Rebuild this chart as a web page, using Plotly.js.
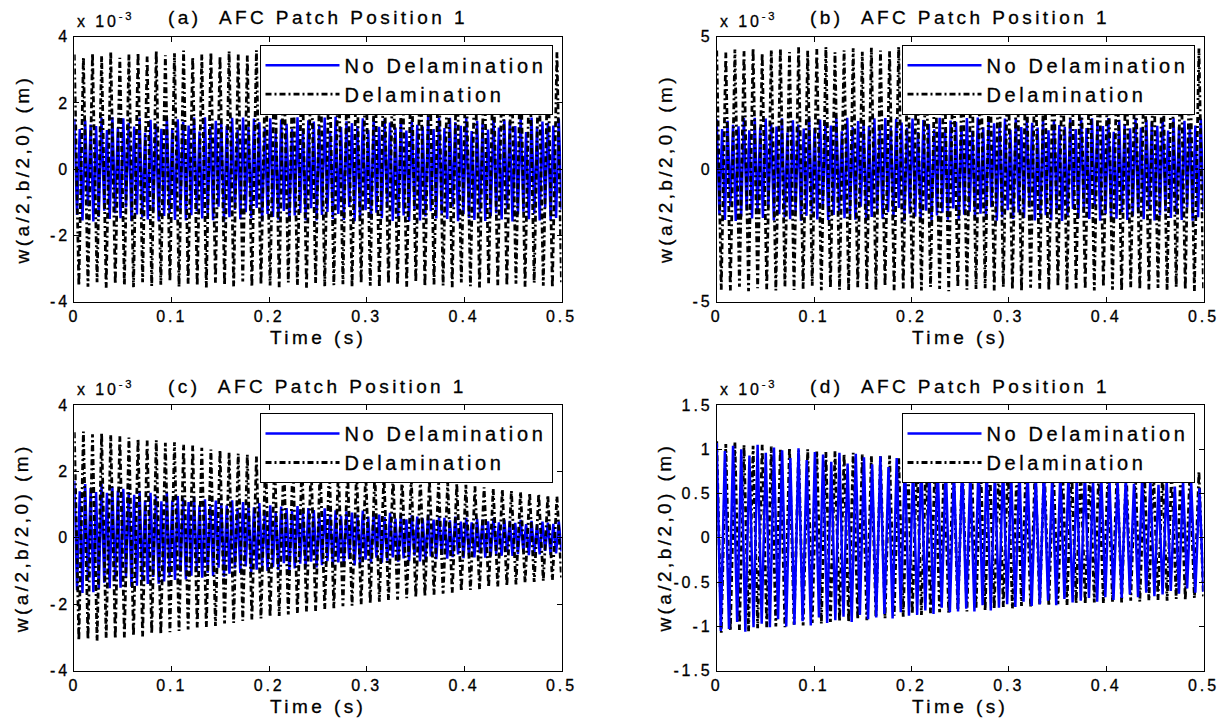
<!DOCTYPE html>
<html>
<head>
<meta charset="utf-8">
<script src="https://cdn.plot.ly/plotly-3.0.1.min.js"></script>
<style>
  html, body { margin: 0; padding: 0; background: #fff; }
  svg text { letter-spacing: 0.18em; stroke: #000; stroke-width: 0.3px; }
</style>
</head>
<body>
<div id="chart" style="width:1231px;height:720px;"></div>
<script>
// ---------------- DATA (values in units of 10^-3 m, successive peaks/troughs over 0..0.5 s) ----------------
const T_END = 0.5;
const xTicks = [0, 0.1, 0.2, 0.3, 0.4, 0.5];
const xTickText = ["0", "0.1", "0.2", "0.3", "0.4", "0.5"];
const yTicksA = [-4, -2, 0, 2, 4];
const yTickTextA = ["-4", "-2", "0", "2", "4"];
const yTicksB = [-5, 0, 5];
const yTickTextB = ["-5", "0", "5"];
const yTicksC = [-4, -2, 0, 2, 4];
const yTickTextC = ["-4", "-2", "0", "2", "4"];
const yTicksD = [-1.5, -1, -0.5, 0, 0.5, 1, 1.5];
const yTickTextD = ["-1.5", "-1", "-0.5", "0", "0.5", "1", "1.5"];

const seriesNames = ["No Delamination", "Delamination"];
const panelTitles = ["(a)\u00a0\u00a0AFC Patch Position 1", "(b)\u00a0\u00a0AFC Patch Position 1",
                     "(c)\u00a0\u00a0AFC Patch Position 1", "(d)\u00a0\u00a0AFC Patch Position 1"];
const xLabel = "Time (s)";
const yLabel = "w(a/2,b/2,0) (m)";
const expLabel = "x 10<sup>-3</sup>";

// (a) Delamination
const delamA = [
 3.46,-3.52,3.38,-3.55,3.50,-3.41,3.43,-3.58,3.55,-3.47,3.36,-3.50,
 3.48,-3.56,3.52,-3.41,3.40,-3.53,3.57,-3.49,3.44,-3.38,3.50,-3.55,
 3.58,-3.46,3.39,-3.52,3.47,-3.57,3.53,-3.43,3.41,-3.50,3.56,-3.54,
 3.46,-3.39,3.43,-3.55,3.59,-3.48,3.40,-3.51,3.49,-3.56,3.54,-3.42,
 3.37,-3.50,3.52,-3.58,3.47,-3.44,3.42,-3.53,3.57,-3.50,3.41,-3.47,
 3.50,-3.56,3.55,-3.43,3.38,-3.52,3.48,-3.57,3.53,-3.45,3.43,-3.49,
 3.56,-3.55,3.46,-3.40,3.44,-3.54,3.58,-3.48,3.41,-3.51,3.50,-3.56,
 3.52,-3.42,3.39,-3.53,3.55,-3.57,3.47,-3.44,3.43,-3.50,3.57,-3.52,
 3.42,-3.46,3.49,-3.55,3.54,-3.43,3.40,-3.52,3.50,-3.58,3.53,-3.47];
// (a) No Delamination
const noDelamA = [
 1.52,-1.38,1.21,-1.55,1.47,-1.12,1.35,-1.58,1.30,-1.44,1.56,-1.25,
 1.18,-1.50,1.57,-1.33,1.26,-1.48,1.54,-1.15,1.40,-1.56,1.29,-1.37,
 1.55,-1.46,1.10,-1.52,1.49,-1.28,1.36,-1.57,1.22,-1.41,1.58,-1.34,
 1.24,-1.53,1.51,-1.19,1.43,-1.55,1.32,-1.39,1.56,-1.27,1.14,-1.49,
 1.57,-1.36,1.28,-1.54,1.46,-1.13,1.38,-1.58,1.31,-1.45,1.55,-1.23,
 1.20,-1.51,1.56,-1.30,1.27,-1.47,1.53,-1.17,1.42,-1.57,1.25,-1.35,
 1.54,-1.44,1.12,-1.52,1.50,-1.26,1.37,-1.56,1.21,-1.40,1.57,-1.32,
 1.23,-1.54,1.48,-1.18,1.44,-1.55,1.33,-1.38,1.56,-1.29,1.16,-1.50,
 1.58,-1.35,1.27,-1.53,1.45,-1.14,1.39,-1.57,1.30,-1.46,1.54,-1.24,
 1.19,-1.52,1.55,-1.31,1.28,-1.48,1.52,-1.16,1.41,-1.56,1.26,-1.45,
 1.53,-1.40,1.17,-1.57,1.48,-1.22,1.34,-1.55,1.29,-1.43,1.58,-1.27,
 1.21,-1.49,1.56,-1.35,1.24,-1.50,1.55,-1.13,1.42,-1.57,1.31,-1.36,
 1.57,-1.47,1.15,-1.53,1.46,-1.30,1.38,-1.56,1.20,-1.42,1.55,-1.33,
 1.26,-1.52,1.50,-1.21,1.45,-1.58,1.30,-1.37,1.57,-1.28,1.12,-1.51,
 1.56,-1.34,1.29,-1.55,1.44,-1.16,1.40,-1.54,1.32,-1.47,1.53,-1.22];
// (b) Delamination
const delamB = [
 4.48,-4.55,4.40,-4.58,4.52,-4.43,4.46,-4.60,4.57,-4.49,4.38,-4.53,
 4.50,-4.58,4.55,-4.44,4.42,-4.56,4.60,-4.51,4.47,-4.40,4.53,-4.57,
 4.61,-4.48,4.41,-4.55,4.49,-4.59,4.56,-4.45,4.43,-4.52,4.58,-4.56,
 4.48,-4.41,4.45,-4.57,4.62,-4.50,4.42,-4.54,4.51,-4.58,4.57,-4.44,
 4.39,-4.52,4.55,-4.60,4.49,-4.46,4.44,-4.55,4.59,-4.52,4.43,-4.49,
 4.52,-4.58,4.57,-4.45,4.40,-4.54,4.50,-4.59,4.55,-4.47,4.45,-4.51,
 4.58,-4.57,4.48,-4.42,4.46,-4.56,4.60,-4.50,4.43,-4.53,4.52,-4.58,
 4.54,-4.44,4.41,-4.55,4.57,-4.59,4.49,-4.46,4.45,-4.52,4.59,-4.54,
 4.44,-4.48,4.51,-4.57,4.56,-4.45,4.42,-4.54,4.52,-4.60,4.55,-4.49];
// (b) No Delamination
const noDelamB = [
 1.88,-1.72,1.52,-1.92,1.83,-1.41,1.68,-1.95,1.62,-1.79,1.93,-1.56,
 1.47,-1.86,1.94,-1.66,1.57,-1.84,1.91,-1.44,1.74,-1.93,1.61,-1.70,
 1.92,-1.81,1.38,-1.89,1.85,-1.60,1.69,-1.94,1.53,-1.76,1.95,-1.67,
 1.55,-1.90,1.87,-1.49,1.78,-1.92,1.65,-1.73,1.93,-1.58,1.43,-1.85,
 1.94,-1.69,1.59,-1.91,1.82,-1.42,1.71,-1.95,1.63,-1.80,1.92,-1.54,
 1.50,-1.87,1.93,-1.62,1.58,-1.83,1.90,-1.46,1.76,-1.94,1.56,-1.68,
 1.91,-1.79,1.40,-1.88,1.86,-1.57,1.70,-1.93,1.51,-1.75,1.94,-1.64,
 1.54,-1.91,1.84,-1.48,1.79,-1.92,1.66,-1.72,1.93,-1.60,1.45,-1.86,
 1.95,-1.68,1.58,-1.90,1.81,-1.43,1.73,-1.94,1.62,-1.82,1.91,-1.55,
 1.49,-1.88,1.92,-1.63,1.59,-1.84,1.89,-1.45,1.75,-1.93,1.57,-1.80,
 1.90,-1.74,1.47,-1.93,1.84,-1.52,1.67,-1.95,1.60,-1.78,1.92,-1.50,
 1.52,-1.85,1.95,-1.64,1.55,-1.88,1.92,-1.42,1.72,-1.94,1.63,-1.69,
 1.93,-1.83,1.41,-1.87,1.86,-1.61,1.70,-1.92,1.54,-1.77,1.94,-1.66,
 1.57,-1.89,1.86,-1.51,1.80,-1.93,1.64,-1.74,1.95,-1.59,1.46,-1.84,
 1.92,-1.70,1.60,-1.92,1.83,-1.44,1.72,-1.94,1.65,-1.81,1.90,-1.58];
// (c) Delamination
const delamC = [
 3.18,-3.08,3.20,-3.05,3.12,-3.10,3.15,-3.02,3.10,-3.04,3.06,-3.00,
 3.02,-2.95,2.98,-2.97,2.93,-2.88,2.94,-2.90,2.86,-2.84,2.88,-2.80,
 2.80,-2.76,2.78,-2.70,2.71,-2.68,2.66,-2.65,2.64,-2.58,2.58,-2.56,
 2.54,-2.50,2.51,-2.46,2.45,-2.43,2.42,-2.38,2.39,-2.35,2.33,-2.31,
 2.30,-2.26,2.27,-2.22,2.21,-2.20,2.17,-2.14,2.15,-2.12,2.10,-2.06,
 2.07,-2.04,2.03,-2.00,1.98,-1.97,1.95,-1.92,1.92,-1.88,1.87,-1.86,
 1.84,-1.82,1.81,-1.78,1.77,-1.75,1.74,-1.71,1.70,-1.68,1.67,-1.65,
 1.63,-1.61,1.60,-1.57,1.55,-1.55,1.52,-1.49,1.49,-1.47,1.46,-1.44,
 1.42,-1.40,1.39,-1.36,1.35,-1.33,1.32,-1.30,1.28,-1.27,1.25,-1.22];
// (c) No Delamination
const noDelamC = [
 1.72,-1.58,1.40,-1.66,1.62,-1.30,1.50,-1.64,1.38,-1.55,1.63,-1.35,
 1.36,-1.52,1.54,-1.30,1.42,-1.50,1.48,-1.20,1.38,-1.47,1.30,-1.44,
 1.40,-1.28,1.12,-1.39,1.36,-1.18,1.27,-1.38,1.10,-1.31,1.37,-1.15,
 1.12,-1.27,1.26,-1.02,1.18,-1.25,1.08,-1.14,1.24,-1.00,0.98,-1.20,
 1.16,-1.05,0.95,-1.15,1.12,-0.90,1.04,-1.17,0.98,-1.08,1.13,-0.92,
 0.90,-1.06,1.08,-0.86,0.98,-1.04,0.92,-0.96,1.05,-0.85,0.82,-1.00,
 0.98,-0.88,0.80,-0.97,0.94,-0.76,0.90,-0.98,0.82,-0.92,0.96,-0.78,
 0.76,-0.90,0.90,-0.72,0.84,-0.89,0.75,-0.82,0.89,-0.70,0.70,-0.86,
 0.83,-0.74,0.66,-0.82,0.80,-0.64,0.76,-0.83,0.70,-0.78,0.82,-0.66,
 0.64,-0.76,0.76,-0.60,0.70,-0.75,0.63,-0.69,0.75,-0.59,0.58,-0.72,
 0.70,-0.62,0.56,-0.70,0.68,-0.54,0.64,-0.71,0.59,-0.66,0.69,-0.56,
 0.55,-0.64,0.65,-0.51,0.60,-0.63,0.53,-0.58,0.64,-0.50,0.49,-0.61,
 0.60,-0.53,0.47,-0.59,0.57,-0.46,0.55,-0.60,0.50,-0.56,0.59,-0.48,
 0.47,-0.54,0.55,-0.43,0.51,-0.54,0.45,-0.49,0.54,-0.42,0.41,-0.52,
 0.51,-0.45,0.40,-0.50,0.49,-0.39,0.46,-0.51,0.42,-0.47,0.50,-0.41];
// (d) Delamination
const delamD = [
 1.09,-1.07,1.06,-1.05,1.08,-1.04,1.05,-1.06,1.04,-1.02,1.05,-1.01,
 1.03,-1.00,1.01,-1.01,1.02,-0.98,0.99,-0.99,1.00,-0.96,0.98,-0.97,
 0.97,-0.95,0.98,-0.94,0.95,-0.95,0.96,-0.92,0.94,-0.93,0.93,-0.90,
 0.92,-0.91,0.93,-0.88,0.90,-0.89,0.91,-0.86,0.89,-0.87,0.90,-0.85,
 0.88,-0.84,0.86,-0.85,0.88,-0.82,0.85,-0.83,0.86,-0.80,0.84,-0.82,
 0.85,-0.80,0.83,-0.78,0.84,-0.80,0.82,-0.77,0.83,-0.78,0.80,-0.76,
 0.82,-0.77,0.79,-0.75,0.81,-0.76,0.80,-0.74,0.78,-0.75,0.79,-0.73,
 0.78,-0.74,0.76,-0.72,0.78,-0.73,0.77,-0.71,0.75,-0.72,0.76,-0.71,
 0.76,-0.70,0.74,-0.71,0.75,-0.69,0.74,-0.70,0.73,-0.68,0.75,-0.69];
// (d) No Delamination
const noDelamD = [
 1.07,-1.05,0.98,-1.03,1.04,-0.95,1.00,-1.06,0.93,-1.01,1.05,-0.97,
 0.96,-1.01,1.02,-0.92,0.99,-1.00,0.90,-0.98,1.01,-0.94,0.88,-0.99,
 0.97,-0.90,0.94,-0.96,0.86,-0.93,0.96,-0.89,0.84,-0.95,0.95,-0.87,
 0.91,-0.92,0.83,-0.90,0.92,-0.86,0.80,-0.91,0.90,-0.84,0.89,-0.88,
 0.81,-0.87,0.88,-0.82,0.78,-0.86,0.87,-0.79,0.85,-0.84,0.77,-0.83,
 0.84,-0.80,0.74,-0.83,0.82,-0.76,0.80,-0.82,0.73,-0.79,0.83,-0.75,
 0.71,-0.78,0.79,-0.72,0.76,-0.77,0.70,-0.75,0.78,-0.71,0.68,-0.76,
 0.74,-0.69,0.72,-0.73,0.66,-0.71,0.74,-0.68,0.64,-0.72,0.72,-0.67,
 0.68,-0.70,0.63,-0.68,0.69,-0.64,0.61,-0.67,0.68,-0.62,0.66,-0.66,
 0.60,-0.64,0.65,-0.60,0.58,-0.63,0.64,-0.57,0.62,-0.62,0.56,-0.61];

// ---------------- LAYOUT GEOMETRY (pixels) ----------------
const W = 1231, H = 720;
const px = p => p / W;
const py = p => 1 - p / H;
const colPx = [[74.3, 561.5], [716.7, 1203.5]];
const rowPx = [[36.7, 301.7], [405, 670.7]];
const FONT = "Liberation Sans, Arial, Helvetica, sans-serif";

const panels = [
  {noDelam: noDelamA, delam: delamA, yr: [-4, 4], tv: yTicksA, tt: yTickTextA, col: 0, row: 0, blueOnTop: false},
  {noDelam: noDelamB, delam: delamB, yr: [-5, 5], tv: yTicksB, tt: yTickTextB, col: 1, row: 0, blueOnTop: false},
  {noDelam: noDelamC, delam: delamC, yr: [-4, 4], tv: yTicksC, tt: yTickTextC, col: 0, row: 1, blueOnTop: false},
  {noDelam: noDelamD, delam: delamD, yr: [-1.5, 1.5], tv: yTicksD, tt: yTickTextD, col: 1, row: 1, blueOnTop: true}
];

const traces = [];
const layout = {
  width: W, height: H,
  margin: {l: 0, r: 0, t: 0, b: 0},
  paper_bgcolor: '#fff', plot_bgcolor: '#fff',
  font: {family: FONT, color: '#000'},
  showlegend: true,
  annotations: []
};

panels.forEach((p, i) => {
  const n = i + 1;
  const xa = n === 1 ? 'x' : 'x' + n;
  const ya = n === 1 ? 'y' : 'y' + n;
  const lg = n === 1 ? 'legend' : 'legend' + n;
  const [x0p, x1p] = colPx[p.col];
  const [y0p, y1p] = rowPx[p.row];

  const blue = {
    type: 'scatter', mode: 'lines', name: seriesNames[0], legendrank: 1,
    x0: 0, dx: T_END / (p.noDelam.length - 1), y: p.noDelam,
    xaxis: xa, yaxis: ya, legend: lg,
    line: {color: '#0000ff', width: 2.5}, hoverinfo: 'skip'
  };
  const black = {
    type: 'scatter', mode: 'lines', name: seriesNames[1], legendrank: 2,
    x0: 0, dx: T_END / (p.delam.length - 1), y: p.delam,
    xaxis: xa, yaxis: ya, legend: lg,
    line: {color: '#000000', width: 2.8, dash: '6px,3px,2px,3px'}, hoverinfo: 'skip'
  };
  if (p.blueOnTop) { traces.push(black, blue); } else { traces.push(blue, black); }

  const axCommon = {
    ticks: 'inside', ticklen: 5, tickwidth: 1, tickcolor: '#000',
    mirror: 'ticks', showline: true, linecolor: '#000', linewidth: 1,
    showgrid: false, zeroline: false, fixedrange: true,
    tickfont: {family: FONT, size: 16, color: '#000'}
  };
  layout[n === 1 ? 'xaxis' : 'xaxis' + n] = Object.assign({}, axCommon, {
    domain: [px(x0p), px(x1p)], anchor: ya, range: [0, T_END],
    tickmode: 'array', tickvals: xTicks, ticktext: xTickText
  });
  layout[n === 1 ? 'yaxis' : 'yaxis' + n] = Object.assign({}, axCommon, {
    domain: [py(y1p), py(y0p)], anchor: xa, range: p.yr,
    tickmode: 'array', tickvals: p.tv, ticktext: p.tt
  });

  layout[lg] = {
    x: px(x1p - 9), y: py(y0p + 8), xanchor: 'right', yanchor: 'top',
    xref: 'paper', yref: 'paper', traceorder: 'normal',
    bgcolor: '#fff', bordercolor: '#000', borderwidth: 1,
    font: {family: FONT, size: 20, color: '#000'},
    itemwidth: 74, tracegroupgap: 0
  };

  const cx = (x0p + x1p) / 2;
  const cy = (y0p + y1p) / 2;
  layout.annotations.push(
    {text: panelTitles[i], xref: 'paper', yref: 'paper', x: px(cx), y: py(y0p - 19),
     xanchor: 'center', yanchor: 'middle', showarrow: false,
     font: {family: FONT, size: 19, color: '#000'}},
    {text: expLabel, xref: 'paper', yref: 'paper', x: px(x0p + 1), y: py(y0p - 17),
     xanchor: 'left', yanchor: 'middle', showarrow: false,
     font: {family: FONT, size: 16, color: '#000'}},
    {text: xLabel, xref: 'paper', yref: 'paper', x: px(cx), y: py(y1p + 36),
     xanchor: 'center', yanchor: 'middle', showarrow: false,
     font: {family: FONT, size: 19, color: '#000'}},
    {text: yLabel, xref: 'paper', yref: 'paper', x: px(x0p - 52), y: py(cy),
     xanchor: 'center', yanchor: 'middle', showarrow: false, textangle: -90,
     font: {family: FONT, size: 19, color: '#000'}}
  );
});

Plotly.newPlot('chart', traces, layout, {staticPlot: true, displayModeBar: false});
</script>
</body>
</html>
